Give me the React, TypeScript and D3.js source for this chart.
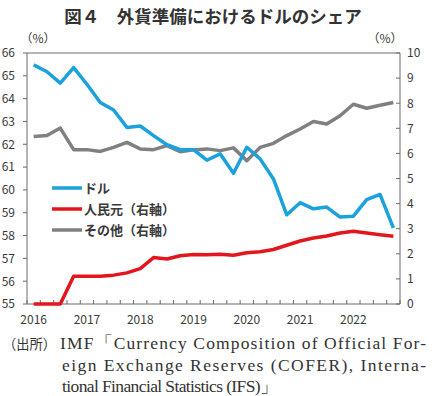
import React from "react";
import * as d3 from "d3";

const years = ["2016", "2017", "2018", "2019", "2020", "2021", "2022"];
const leftTicks = [55, 56, 57, 58, 59, 60, 61, 62, 63, 64, 65, 66];
const rightTicks = [0, 1, 2, 3, 4, 5, 6, 7, 8, 9, 10];

// quarterly 2016Q1 .. 2022Q4
const usd = [
  65.48, 65.18, 64.68, 65.36, 64.63, 63.83, 63.5, 62.74, 62.8, 62.38, 61.98, 61.76,
  61.76, 61.3, 61.58, 60.73, 61.87, 61.36, 60.48, 58.91, 59.44, 59.17, 59.25, 58.81,
  58.85, 59.57, 59.8, 58.34,
];
const rmb = [
  0, 0, 0, 1.11, 1.11, 1.11, 1.15, 1.24, 1.41, 1.85, 1.79, 1.92,
  1.97, 1.96, 1.98, 1.94, 2.04, 2.08, 2.17, 2.34, 2.51, 2.63, 2.71, 2.83,
  2.9, 2.83, 2.76, 2.7,
];
const other = [
  6.67, 6.71, 7.01, 6.15, 6.15, 6.08, 6.24, 6.44, 6.18, 6.15, 6.31, 6.07,
  6.14, 6.18, 6.11, 6.22, 5.71, 6.24, 6.4, 6.71, 6.97, 7.27, 7.17, 7.5,
  7.96, 7.8, 7.92, 8.03,
];

const seriesNames = ["ドル", "人民元（右軸）", "その他（右軸）"];
const colors = ["#1ba1dc", "#e3161e", "#808080"];

const title = "図４　外貨準備におけるドルのシェア";
const sourceLabel = "（出所）";
const sourceLines = [
  "IMF「Currency Composition of Official For-",
  "eign Exchange Reserves (COFER), Interna-",
  "tional Financial Statistics (IFS)」",
];

export default function App() {
  const L = 27, R = 400, T = 53, B = 304;
  const n = usd.length;
  const x = d3.scaleLinear().domain([0, n]).range([L, R]);
  const yL = d3.scaleLinear().domain([55, 66]).range([B, T]);
  const yR = d3.scaleLinear().domain([0, 10]).range([B, T]);

  const lineL = d3.line<number>().x((_, i) => x(i + 0.5)).y((d) => yL(d));
  const lineR = d3.line<number>().x((_, i) => x(i + 0.5)).y((d) => yR(d));

  const axisColor = "#6a6a6a";
  const textColor = "#3a3a3a";
  const font = "'Noto Sans CJK JP', 'Noto Sans', sans-serif";
  const serif = "'Liberation Serif', 'DejaVu Serif', serif";

  const qTicks = d3.range(0, n + 1);

  return (
    <svg
      width={436}
      height={396}
      style={{ position: "absolute", left: 0, top: 0, background: "#fff" }}
    >
      <rect x={0} y={0} width={436} height={396} fill="#fff" />
      <text
        x={213}
        y={23}
        textAnchor="middle"
        fontFamily={font}
        fontWeight={700}
        fontSize={17.5}
        fill="#333"
      >
        {title}
      </text>

      {/* unit labels */}
      <text x={38} y={43} textAnchor="middle" fontFamily={font} fontSize={12} fill={textColor}>
        （%）
      </text>
      <text x={385} y={43} textAnchor="middle" fontFamily={font} fontSize={12} fill={textColor}>
        （%）
      </text>

      {/* frame */}
      <line x1={L} x2={R} y1={T} y2={T} stroke={axisColor} strokeWidth={1} />
      <line x1={L} x2={R} y1={B} y2={B} stroke={axisColor} strokeWidth={1} />
      <line x1={L} x2={L} y1={T} y2={B} stroke={axisColor} strokeWidth={1} />
      <line x1={R} x2={R} y1={T} y2={B} stroke={axisColor} strokeWidth={1} />

      {/* left ticks */}
      {leftTicks.map((t) => (
        <g key={"l" + t}>
          <line x1={L - 4} x2={L} y1={yL(t)} y2={yL(t)} stroke={axisColor} />
          <text
            x={15}
            y={yL(t)}
            dy="0.36em"
            textAnchor="end"
            fontFamily={font}
            fontSize={12}
            fill={textColor}
          >
            {t}
          </text>
        </g>
      ))}

      {/* right ticks */}
      {rightTicks.map((t) => (
        <g key={"r" + t}>
          <line x1={R - 4} x2={R} y1={yR(t)} y2={yR(t)} stroke={axisColor} />
          <text
            x={407}
            y={yR(t)}
            dy="0.36em"
            textAnchor="start"
            fontFamily={font}
            fontSize={12}
            fill={textColor}
          >
            {t}
          </text>
        </g>
      ))}

      {/* bottom ticks */}
      {qTicks.map((q) => (
        <line key={"q" + q} x1={x(q)} x2={x(q)} y1={B} y2={B - 4} stroke={axisColor} />
      ))}
      {years.map((yv, i) => (
        <text
          key={yv}
          x={x(i * 4 + 0.5)}
          y={324}
          textAnchor="middle"
          fontFamily={font}
          fontSize={12}
          fill={textColor}
        >
          {yv}
        </text>
      ))}

      {/* lines */}
      <path d={lineR(other) || ""} fill="none" stroke={colors[2]} strokeWidth={3.5} strokeLinejoin="round" />
      <path d={lineR(rmb) || ""} fill="none" stroke={colors[1]} strokeWidth={3.5} strokeLinejoin="round" />
      <path d={lineL(usd) || ""} fill="none" stroke={colors[0]} strokeWidth={3.5} strokeLinejoin="round" />

      {/* legend */}
      {seriesNames.map((name, i) => (
        <g key={name}>
          <line x1={52} x2={82} y1={188 + i * 21} y2={188 + i * 21} stroke={colors[i]} strokeWidth={3.5} />
          <text
            x={84}
            y={188 + i * 21}
            dy="0.36em"
            fontFamily={font}
            fontWeight={700}
            fontSize={13}
            fill={textColor}
          >
            {name}
          </text>
        </g>
      ))}

      {/* source */}
      <text
        x={3}
        y={349}
        fontFamily={font}
        fontSize={14}
        fill="#333"
        textLength={53}
        lengthAdjust="spacingAndGlyphs"
      >
        {sourceLabel}
      </text>
      {sourceLines.map((s, i) => (
        <text
          key={i}
          x={i === 0 ? 60 : 62}
          y={349 + i * 21.5}
          fontFamily={serif}
          fontSize={17.5}
          fill="#333"
          textLength={i === 0 ? 366 : i === 1 ? 364 : 216}
          lengthAdjust="spacing"
        >
          {s}
        </text>
      ))}
    </svg>
  );
}
